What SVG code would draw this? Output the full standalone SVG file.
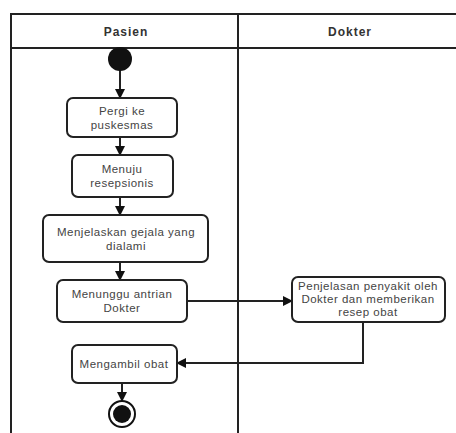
<svg xmlns="http://www.w3.org/2000/svg" width="456" height="433" viewBox="0 0 456 433">
<style>
.lane{stroke:#222;stroke-width:2;fill:none}
.box{fill:#fff;stroke:#222;stroke-width:2}
.t{font-family:"Liberation Sans",Arial,sans-serif;font-size:11.5px;letter-spacing:0.5px;fill:#444;text-anchor:middle}
.h{font-family:"Liberation Sans",Arial,sans-serif;font-size:12px;letter-spacing:1px;font-weight:bold;fill:#333;text-anchor:middle}
.c{stroke:#222;stroke-width:2;fill:none;marker-end:url(#ah)}
</style>
<defs>
<marker id="ah" markerWidth="10" markerHeight="10" refX="9" refY="5" orient="auto" markerUnits="userSpaceOnUse">
<path d="M0,0 L10,5 L0,10 Z" fill="#111"/>
</marker>
</defs>
<rect width="456" height="433" fill="#fff"/>
<g id="swimlanes">
<path class="lane" d="M11,433 V14 H456 M11,48 H456 M238,14 V433"/>
<text class="h" x="126" y="36">Pasien</text>
<text class="h" x="350" y="36">Dokter</text>
</g>
<g id="connectors">
<path class="c" d="M120,70 V98"/>
<path class="c" d="M120,137 V155"/>
<path class="c" d="M120,197 V215"/>
<path class="c" d="M120,262 V280"/>
<path class="c" d="M187,301 H292"/>
<path class="c" d="M363,322 V363 H177"/>
<path class="c" d="M122,383 V401"/>
</g>
<g id="start"><circle cx="120" cy="59" r="12" fill="#111"/></g>
<g id="n1"><rect class="box" x="67" y="98" width="110" height="39" rx="6"/>
<text class="t" x="122" y="115">Pergi ke</text><text class="t" x="122" y="129">puskesmas</text></g>
<g id="n2"><rect class="box" x="72" y="155" width="101" height="42" rx="6"/>
<text class="t" x="122" y="173">Menuju</text><text class="t" x="122" y="187">resepsionis</text></g>
<g id="n3"><rect class="box" x="43" y="215" width="165" height="47" rx="6"/>
<text class="t" x="126" y="236">Menjelaskan gejala yang</text><text class="t" x="126" y="250">dialami</text></g>
<g id="n4"><rect class="box" x="57" y="280" width="130" height="42" rx="6"/>
<text class="t" x="122" y="298">Menunggu antrian</text><text class="t" x="122" y="312">Dokter</text></g>
<g id="n5"><rect class="box" x="292" y="277" width="153" height="45" rx="6"/>
<text class="t" x="368" y="290">Penjelasan penyakit oleh</text><text class="t" x="368" y="303">Dokter dan memberikan</text><text class="t" x="368" y="316">resep obat</text></g>
<g id="n6"><rect class="box" x="72" y="345" width="105" height="38" rx="6"/>
<text class="t" x="124" y="368">Mengambil obat</text></g>
<g id="end"><circle cx="122" cy="414" r="13" fill="#fff" stroke="#111" stroke-width="2"/><circle cx="122" cy="414" r="9" fill="#111"/></g>
</svg>
